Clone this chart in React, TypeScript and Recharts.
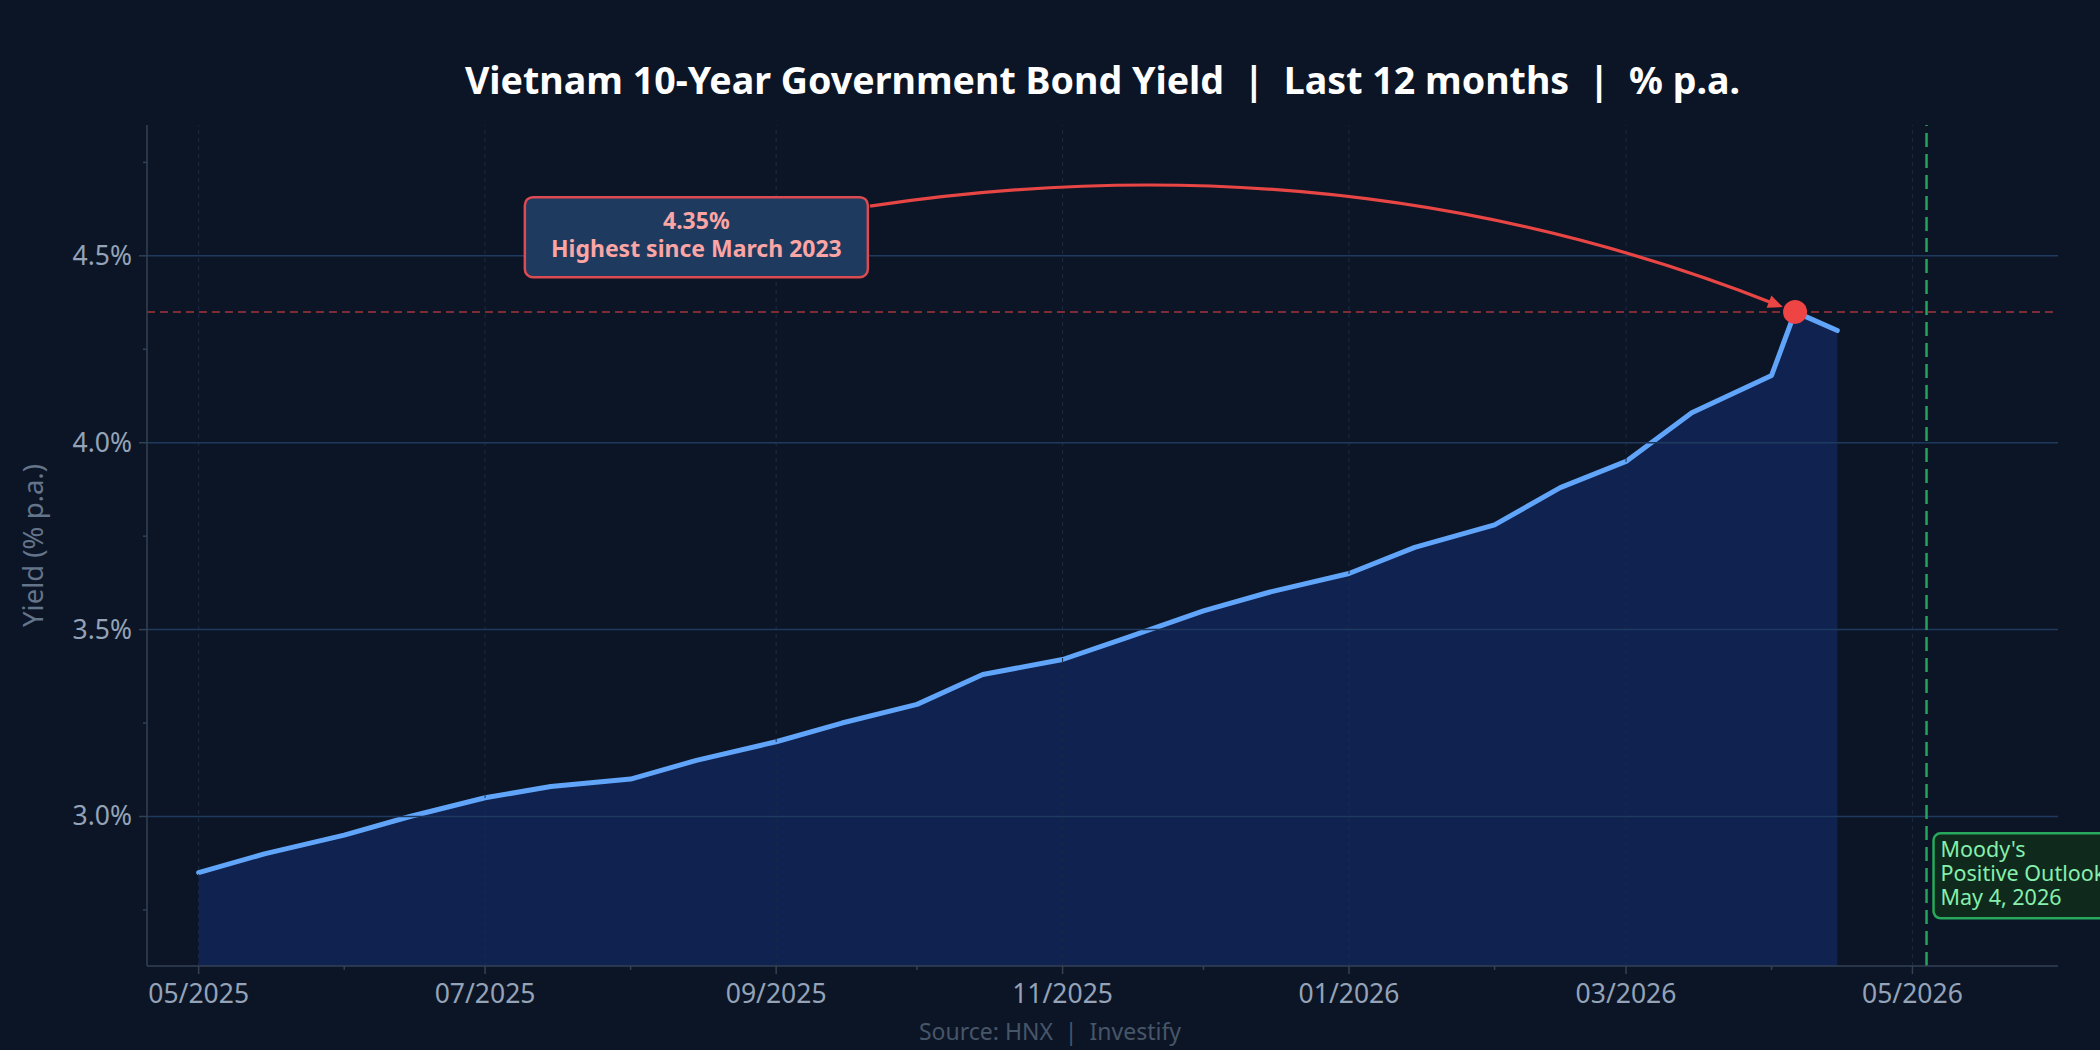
import React from 'react';
import { ComposedChart, Area, XAxis, YAxis, ReferenceLine, ReferenceDot } from 'recharts';

// ---------- data ----------
const dates = [
  '2025-05-01', '2025-05-15', '2025-06-01', '2025-06-15', '2025-07-01', '2025-07-15',
  '2025-08-01', '2025-08-15', '2025-09-01', '2025-09-15', '2025-10-01', '2025-10-15',
  '2025-11-01', '2025-11-15', '2025-12-01', '2025-12-15', '2026-01-01', '2026-01-15',
  '2026-02-01', '2026-02-15', '2026-03-01', '2026-03-15', '2026-04-01', '2026-04-06',
  '2026-04-15',
];
const yields = [
  2.85, 2.9, 2.95, 3.0, 3.05, 3.08,
  3.1, 3.15, 3.2, 3.25, 3.3, 3.38,
  3.42, 3.48, 3.55, 3.6, 3.65, 3.72,
  3.78, 3.88, 3.95, 4.08, 4.18, 4.35,
  4.3,
];
const monthTicks = [
  '2025-05-01', '2025-06-01', '2025-07-01', '2025-08-01', '2025-09-01', '2025-10-01',
  '2025-11-01', '2025-12-01', '2026-01-01', '2026-02-01', '2026-03-01', '2026-04-01',
  '2026-05-01',
];
const majorMonthTicks = ['2025-05-01', '2025-07-01', '2025-09-01', '2025-11-01', '2026-01-01', '2026-03-01', '2026-05-01'];
const yTicks = [2.75, 3.0, 3.25, 3.5, 3.75, 4.0, 4.25, 4.5, 4.75];
const yMajorTicks = [3.0, 3.5, 4.0, 4.5];
const xDomain = ['2025-04-20', '2026-06-01'];
const yDomain = [2.6, 4.85];

const peakDate = '2026-04-06';
const peakValue = 4.35;
const peakNote = 'Highest since March 2023';
const peakNoteAnchor = { date: '2025-08-15', value: 4.55 };
const arrowStart = { date: '2025-09-21', value: 4.633 };

const moodysDate = '2026-05-04';
const moodysLines = ["Moody's", 'Positive Outlook', 'May 4, 2026'];
const moodysBoxTop = 2.955;

const title = 'Vietnam 10-Year Government Bond Yield  |  Last 12 months  |  % p.a.';
const yLabel = 'Yield (% p.a.)';
const sourceText = 'Source: HNX  |  Investify';

// ---------- helpers ----------
const ts = (s: string) => {
  const [y, m, d] = s.split('-').map(Number);
  return Date.UTC(y, m - 1, d);
};
const data = dates.map((d, i) => ({ t: ts(d), y: yields[i] }));
const majorSet = new Set(majorMonthTicks.map(ts));
const yMajorSet = new Set(yMajorTicks);

const BG = '#0c1525';
const TICK = '#94a3b8';
const AXIS = '#334155';

const XTick = (props: any) => {
  const { x, y, payload } = props;
  const major = majorSet.has(payload.value);
  const d = new Date(payload.value);
  const label = `${String(d.getUTCMonth() + 1).padStart(2, '0')}/${d.getUTCFullYear()}`;
  return (
    <g>
      <line x1={x} x2={x} y1={y} y2={y + (major ? 8 : 4)} stroke={AXIS} strokeWidth={1.5} />
      {major && (
        <text x={x} y={y + 37} textAnchor="middle" fill={TICK} fontSize={26.5}>
          {label}
        </text>
      )}
    </g>
  );
};

const YTick = (props: any) => {
  const { x, y, payload } = props;
  const major = yMajorSet.has(payload.value);
  return (
    <g>
      <line x1={x - (major ? 8 : 4)} x2={x} y1={y} y2={y} stroke={AXIS} strokeWidth={1.5} />
      {major && (
        <text x={x - 15} y={y + 9} textAnchor="end" fill={TICK} fontSize={26.5}>
          {`${payload.value.toFixed(1)}%`}
        </text>
      )}
    </g>
  );
};

const YLabel = (props: any) => {
  const vb = props.viewBox || {};
  const cx = vb.x - 15;
  const cy = vb.y + vb.height / 2;
  return (
    <text
      x={cx}
      y={cy}
      transform={`rotate(-90 ${cx} ${cy})`}
      textAnchor="middle"
      dominantBaseline="central"
      fill="#64748b"
      fontSize={27.5}
    >
      {yLabel}
    </text>
  );
};

const PeakNoteShape = (props: any) => {
  const { cx, cy } = props;
  const w = 343;
  const h = 80;
  return (
    <g>
      <rect x={cx - w / 2} y={cy - h / 2} width={w} height={h} rx={8} ry={8} fill="#1e3a5f" stroke="#dc4a52" strokeWidth={2.5} />
      <text x={cx} y={cy - 8} textAnchor="middle" fill="#fca5a5" fontSize={23} fontWeight="bold">
        {`${peakValue.toFixed(2)}%`}
      </text>
      <text x={cx} y={cy + 20} textAnchor="middle" fill="#fca5a5" fontSize={23} fontWeight="bold">
        {peakNote}
      </text>
    </g>
  );
};

const ArrowShape = (props: any) => {
  const { x1, y1, x2, y2 } = props;
  if ([x1, y1, x2, y2].some((v) => typeof v !== 'number' || isNaN(v))) return <g />;
  const dx = x2 - x1;
  const dy = y2 - y1;
  const len = Math.sqrt(dx * dx + dy * dy);
  const px = dy / len;
  const py = -dx / len;
  const k = 125;
  const cxp = (x1 + x2) / 2 + px * k;
  const cyp = (y1 + y2) / 2 + py * k;
  let ux = x2 - cxp;
  let uy = y2 - cyp;
  const ul = Math.sqrt(ux * ux + uy * uy);
  ux /= ul;
  uy /= ul;
  const tipX = x2 - ux * 13;
  const tipY = y2 - uy * 13;
  const headLen = 15;
  const half = 6.5;
  const bx = tipX - ux * headLen;
  const by = tipY - uy * headLen;
  const endX = tipX - ux * 8;
  const endY = tipY - uy * 8;
  return (
    <g>
      <path d={`M${x1},${y1} Q${cxp},${cyp} ${endX},${endY}`} fill="none" stroke="#e84545" strokeWidth={3.2} />
      <path
        d={`M${tipX},${tipY} L${bx - uy * half},${by + ux * half} L${bx + uy * half},${by - ux * half} Z`}
        fill="#e84545"
      />
    </g>
  );
};

const PeakDot = (props: any) => {
  const { cx, cy } = props;
  return <circle cx={cx} cy={cy} r={12} fill="#ef4444" />;
};

const MoodysShape = (props: any) => {
  const { cx, cy } = props;
  return (
    <g>
      <rect x={cx + 7} y={cy} width={220} height={85} rx={7} ry={7} fill="#0f2a1c" stroke="#27a85c" strokeWidth={2.5} />
      {moodysLines.map((l, i) => (
        <text key={i} x={cx + 14} y={cy + 24 + i * 24} fill="#86efac" fontSize={21.5}>
          {l}
        </text>
      ))}
    </g>
  );
};

export default function App() {
  return (
    <div
      style={{
        position: 'relative',
        width: 2100,
        height: 1050,
        background: BG,
        fontFamily: '"Noto Sans", sans-serif',
        overflow: 'hidden',
      }}
    >
      <style>{`body{margin:0;overflow:hidden;background:${BG};}`}</style>
      <div
        style={{
          position: 'absolute',
          left: 147,
          width: 1911,
          top: 61,
          textAlign: 'center',
          color: '#ffffff',
          fontWeight: 'bold',
          fontSize: 37.6,
          lineHeight: '37.6px',
          whiteSpace: 'pre',
        }}
      >
        {title}
      </div>
      <ComposedChart
        width={2100}
        height={1050}
        data={data}
        margin={{ top: 125, right: 42, bottom: 24, left: 47 }}
      >
        <XAxis
          type="number"
          dataKey="t"
          domain={[ts(xDomain[0]), ts(xDomain[1])]}
          ticks={monthTicks.map(ts)}
          interval={0}
          height={60}
          tickSize={0}
          tickMargin={0}
          tickLine={false}
          tick={<XTick />}
          axisLine={{ stroke: AXIS, strokeWidth: 1.5 }}
        />
        <YAxis
          type="number"
          domain={yDomain}
          ticks={yTicks}
          interval={0}
          width={100}
          tickSize={0}
          tickMargin={0}
          tickLine={false}
          tick={<YTick />}
          axisLine={{ stroke: AXIS, strokeWidth: 1.5 }}
          label={<YLabel />}
        />
        {majorMonthTicks.map((m) => (
          <ReferenceLine key={m} x={ts(m)} stroke="#1c2b42" strokeWidth={1} strokeDasharray="4 4" />
        ))}
        {yMajorTicks.map((v) => (
          <ReferenceLine key={v} y={v} stroke="#1e3a5f" strokeWidth={1.5} />
        ))}
        <Area
          type="linear"
          dataKey="y"
          stroke="#60a5fa"
          strokeWidth={5}
          strokeLinejoin="round"
          strokeLinecap="round"
          fill="#1d4ed8"
          fillOpacity={0.24}
          dot={false}
          activeDot={false}
          isAnimationActive={false}
        />
        <ReferenceLine y={peakValue} stroke="#ef4444" strokeOpacity={0.5} strokeWidth={2} strokeDasharray="8 5" />
        <ReferenceLine x={ts(moodysDate)} stroke="#22a55a" strokeWidth={2.5} strokeDasharray="14 7" />
        <ReferenceLine
          segment={[
            { x: ts(arrowStart.date), y: arrowStart.value },
            { x: ts(peakDate), y: peakValue },
          ]}
          shape={ArrowShape}
        />
        <ReferenceDot x={ts(peakDate)} y={peakValue} r={12} shape={PeakDot} />
        <ReferenceDot x={ts(peakNoteAnchor.date)} y={peakNoteAnchor.value} r={1} shape={PeakNoteShape} />
        <ReferenceDot x={ts(moodysDate)} y={moodysBoxTop} r={1} shape={MoodysShape} />
      </ComposedChart>
      <div
        style={{
          position: 'absolute',
          left: 0,
          width: 2100,
          top: 1020,
          textAlign: 'center',
          color: '#475569',
          fontSize: 23,
          lineHeight: '23px',
          whiteSpace: 'pre',
        }}
      >
        {sourceText}
      </div>
    </div>
  );
}
